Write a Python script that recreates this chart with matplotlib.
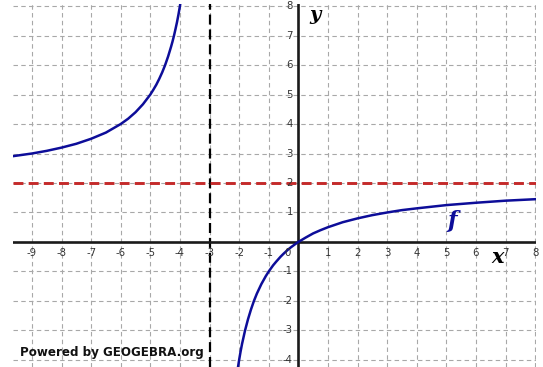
import matplotlib
matplotlib.use("Agg")
import matplotlib.pyplot as plt

# f(x) sampled along its two branches (pole at x = -3)
left_x = [-9.64, -9.0, -8.5, -8.0, -7.5, -7.0, -6.5, -6.0, -5.75, -5.5, -5.25, -5.0,
          -4.9, -4.8, -4.7, -4.6, -4.5, -4.4, -4.3, -4.25, -4.2, -4.15, -4.1, -4.05, -4.0, -3.95]
left_y = [2.91, 3.0, 3.09, 3.2, 3.33, 3.5, 3.71, 4.0, 4.18, 4.4, 4.67, 5.0,
          5.16, 5.33, 5.53, 5.75, 6.0, 6.29, 6.62, 6.8, 7.0, 7.22, 7.45, 7.71, 8.0, 8.32]
right_x = [-2.1, -2.05, -2.0, -1.95, -1.9, -1.8, -1.7, -1.6, -1.5, -1.4, -1.25, -1.1, -1.0,
           -0.85, -0.75, -0.6, -0.5, -0.35, -0.25, -0.1, 0.0, 0.25, 0.5, 0.75, 1.0, 1.5,
           2.0, 2.5, 3.0, 3.5, 4.0, 5.0, 6.0, 7.0, 8.0, 8.1]
right_y = [-4.67, -4.32, -4.0, -3.71, -3.45, -3.0, -2.62, -2.29, -2.0, -1.75, -1.43, -1.16, -1.0,
           -0.79, -0.67, -0.5, -0.4, -0.26, -0.18, -0.07, 0.0, 0.15, 0.29, 0.4, 0.5, 0.67,
           0.8, 0.91, 1.0, 1.08, 1.14, 1.25, 1.33, 1.4, 1.45, 1.46]

asym_x = -3
asym_y = 2
x_ticks = [-9, -8, -7, -6, -5, -4, -3, -2, -1, 1, 2, 3, 4, 5, 6, 7, 8]
y_ticks = [-4, -3, -2, -1, 1, 2, 3, 4, 5, 6, 7, 8]

fig = plt.figure(figsize=(5.43, 3.67), dpi=100)
ax = fig.add_axes([13 / 543, 0, 523 / 543, 363 / 367])
ax.set_xlim(-9.64, 8.03)
ax.set_ylim(-4.24, 8.07)
ax.axis("off")

grid_kw = dict(color="#a8a8a8", lw=0.8, linestyle=(0, (4, 3)), zorder=1)
for gx in range(-9, 9):
    ax.axvline(gx, **grid_kw)
for gy in range(-4, 9):
    ax.axhline(gy, **grid_kw)

# coordinate axes
ax.axhline(0, color="#1a1a1a", lw=1.9, zorder=3)
ax.axvline(0, color="#1a1a1a", lw=1.9, zorder=3)

# asymptotes
ax.axvline(asym_x, color="black", lw=1.6, linestyle=(0, (4.5, 2.2)), zorder=2)
ax.axhline(asym_y, color="#c42a2a", lw=2.1, linestyle=(0, (3.4, 1.8)), zorder=2)

ax.plot(left_x, left_y, color="#0d0d99", lw=1.8, zorder=4, solid_capstyle="round")
ax.plot(right_x, right_y, color="#0d0d99", lw=1.8, zorder=4, solid_capstyle="round")

lab_kw = dict(fontsize=7.3, color="#333333", family="DejaVu Sans", zorder=5)
for t in x_ticks:
    ax.annotate(str(t), (t, 0), xytext=(0, -8), textcoords="offset points",
                ha="center", va="center", **lab_kw)
ax.annotate("0", (0, 0), xytext=(-8, -8), textcoords="offset points",
            ha="center", va="center", **lab_kw)
for t in y_ticks:
    ax.annotate(str(t), (0, t), xytext=(-4, 0), textcoords="offset points",
                ha="right", va="center", **lab_kw)

ax.text(0.55, 7.7, "y", fontsize=14, family="DejaVu Serif", style="italic",
        weight="bold", ha="center", va="center", zorder=5)
ax.text(6.72, -0.52, "x", fontsize=15, family="DejaVu Serif", style="italic",
        weight="bold", ha="center", va="center", zorder=5)
ax.text(5.2, 0.72, "f", fontsize=16, family="DejaVu Serif", style="italic",
        weight="bold", color="#0d0d99", ha="center", va="center", zorder=5)

ax.text(-9.42, -3.75, "Powered by GEOGEBRA.org", fontsize=8.6,
        family="DejaVu Sans", weight="bold", color="#111111",
        ha="left", va="center", zorder=5)

fig.savefig("out.png", dpi=100)
